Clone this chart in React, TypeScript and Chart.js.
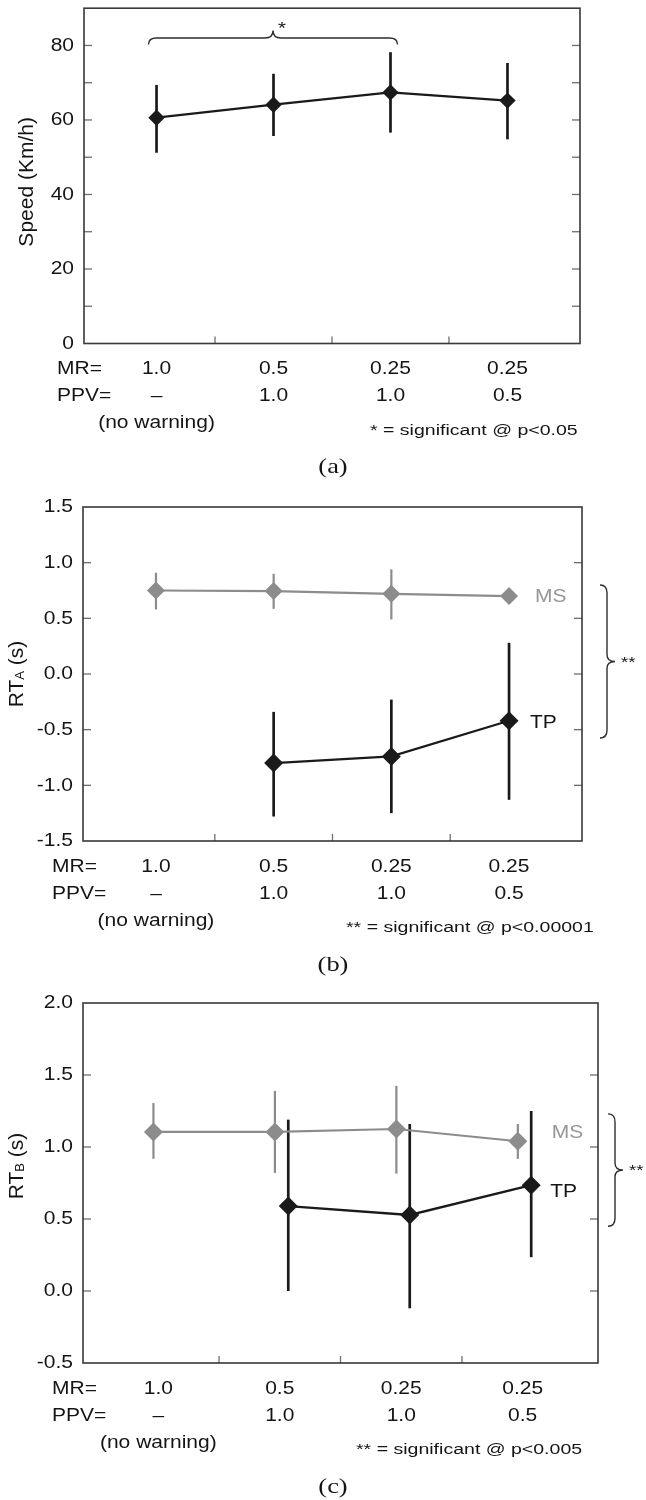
import React, { useEffect, useRef } from 'react';
import { Chart, registerables } from 'chart.js';

Chart.register(...registerables);

// ---------------- data ----------------
const mrLabels = ['1.0', '0.5', '0.25', '0.25'];
const ppvLabels = ['–', '1.0', '1.0', '0.5'];
const noWarningLabel = '(no warning)';

// (a) Speed
const speedMean = [60.6, 64.1, 67.4, 65.2];
const speedHigh = [69.4, 72.4, 78.2, 75.3];
const speedLow = [51.2, 55.7, 56.6, 54.8];
const speedTickLabels = [0, 20, 40, 60, 80];
const speedMinorTicks = [10, 30, 50, 70];
const speedBracketCats = [0, 2];
const speedBracketLevel = 82;

// (b) RT_A
const rtaMsMean = [0.75, 0.745, 0.72, 0.7];
const rtaMsHigh = [0.91, 0.9, 0.94, 0.72];
const rtaMsLow = [0.58, 0.585, 0.49, 0.68];
const rtaTpMean = [null, -0.8, -0.74, -0.42];
const rtaTpHigh = [null, -0.34, -0.23, 0.28];
const rtaTpLow = [null, -1.28, -1.25, -1.13];
const rtaTickLabels = [-1.5, -1.0, -0.5, 0.0, 0.5, 1.0, 1.5];
const rtaBrace = [0.8, -0.575];

// (c) RT_B
const rtbMsMean = [1.105, 1.105, 1.125, 1.04];
const rtbMsHigh = [1.305, 1.39, 1.425, 1.16];
const rtbMsLow = [0.918, 0.82, 0.815, 0.918];
const rtbTpMean = [null, 0.59, 0.528, 0.735];
const rtbTpHigh = [null, 1.19, 1.16, 1.25];
const rtbTpLow = [null, 0.0, -0.12, 0.235];
const rtbTickLabels = [-0.5, 0.0, 0.5, 1.0, 1.5, 2.0];
const rtbBrace = [1.23, 0.45];

// ---------------- styles ----------------
const FONT = "'Liberation Sans', Arial, Helvetica, sans-serif";
const SERIF = "'Liberation Serif', 'Times New Roman', serif";
const TEXT = '#141414';
const BLACK = '#1a1a1a';
const GRAY = '#8c8c8c';
const GRAY_TEXT = '#969696';
const SX = 1.2;
const FS = 17.5;
const W = 646;

type Series = {
  name: string; mean: (number | null)[]; high: (number | null)[]; low: (number | null)[];
  color: string; radius: number; barWidth: number; lineWidth: number; dodge: number; order: number;
  label?: { text: string; color: string; dx: number; dy: number };
};

const panels: any[] = [
  {
    key: 'a', top: 0, height: 485,
    area: { left: 84, top: 7, right: 580, bottom: 343.5 },
    yMin: 0, yMax: 90, yTicks: speedTickLabels, yMinor: speedMinorTicks, decimals: 0,
    yTitle: [{ t: 'Speed (Km/h)', size: 21 }], yTitleX: 25, yTitleDy: 6,
    series: [
      { name: 'Speed', mean: speedMean, high: speedHigh, low: speedLow, color: BLACK, radius: 8.2, barWidth: 2.7, lineWidth: 2.3, dodge: 0, order: 0 },
    ] as Series[],
    labelX: 57, sigText: '* = significant @ p<0.05', sigX: 370, panelLabel: '(a)',
    topBracket: { cats: speedBracketCats, level: speedBracketLevel },
  },
  {
    key: 'b', top: 485, height: 495,
    area: { left: 83, top: 22, right: 582, bottom: 356 },
    yMin: -1.5, yMax: 1.5, yTicks: rtaTickLabels, yMinor: [], decimals: 1,
    yTitle: [{ t: 'RT', size: 21 }, { t: 'A', size: 13, dy: 1.5 }, { t: ' (s)', size: 21 }], yTitleX: 15, yTitleDy: 0,
    series: [
      { name: 'MS', mean: rtaMsMean, high: rtaMsHigh, low: rtaMsLow, color: GRAY, radius: 9, barWidth: 2.2, lineWidth: 2.2, dodge: 0, order: 1,
        label: { text: 'MS', color: GRAY_TEXT, dx: 26, dy: 1 } },
      { name: 'TP', mean: rtaTpMean, high: rtaTpHigh, low: rtaTpLow, color: BLACK, radius: 9.5, barWidth: 2.7, lineWidth: 2.3, dodge: 0, order: 0,
        label: { text: 'TP', color: TEXT, dx: 21, dy: 2 } },
    ] as Series[],
    labelX: 52, sigText: '** = significant @ p<0.00001', sigX: 346, panelLabel: '(b)',
    sideBrace: { span: rtaBrace, gap: 18 },
  },
  {
    key: 'c', top: 980, height: 520,
    area: { left: 83, top: 23, right: 598, bottom: 383 },
    yMin: -0.5, yMax: 2.0, yTicks: rtbTickLabels, yMinor: [], decimals: 1,
    yTitle: [{ t: 'RT', size: 21 }, { t: 'B', size: 13, dy: 1.5 }, { t: ' (s)', size: 21 }], yTitleX: 15, yTitleDy: -17,
    series: [
      { name: 'MS', mean: rtbMsMean, high: rtbMsHigh, low: rtbMsLow, color: GRAY, radius: 9.5, barWidth: 2.2, lineWidth: 2.2, dodge: -0.04, order: 1,
        label: { text: 'MS', color: GRAY_TEXT, dx: 34, dy: -8 } },
      { name: 'TP', mean: rtbTpMean, high: rtbTpHigh, low: rtbTpLow, color: BLACK, radius: 9.5, barWidth: 2.7, lineWidth: 2.3, dodge: 0.07, order: 0,
        label: { text: 'TP', color: TEXT, dx: 19, dy: 7 } },
    ] as Series[],
    labelX: 52, sigText: '** = significant @ p<0.005', sigX: 356, panelLabel: '(c)',
    sideBrace: { span: rtbBrace, gap: 10 },
  },
];

// ---------------- drawing helpers ----------------
function txt(ctx: CanvasRenderingContext2D, s: string, x: number, y: number,
  o: { size?: number; color?: string; align?: CanvasTextAlign; baseline?: CanvasTextBaseline; sx?: number; family?: string } = {}) {
  ctx.save();
  ctx.font = `${o.size ?? FS}px ${o.family ?? FONT}`;
  ctx.fillStyle = o.color ?? TEXT;
  ctx.textAlign = o.align ?? 'left';
  ctx.textBaseline = o.baseline ?? 'middle';
  ctx.translate(x, y);
  ctx.scale(o.sx ?? SX, 1);
  ctx.fillText(s, 0, 0);
  ctx.restore();
}

function seg(ctx: CanvasRenderingContext2D, x1: number, y1: number, x2: number, y2: number) {
  ctx.beginPath();
  ctx.moveTo(x1, y1);
  ctx.lineTo(x2, y2);
  ctx.stroke();
}

function makePlugin(cfg: any) {
  return {
    id: 'decor_' + cfg.key,
    beforeDatasetsDraw(chart: any) {
      const { ctx, scales } = chart;
      const x = scales.x, y = scales.y;
      (cfg.series as Series[]).forEach((s) => {
        ctx.save();
        ctx.strokeStyle = s.color;
        ctx.lineWidth = s.barWidth;
        s.mean.forEach((v, i) => {
          if (v == null) return;
          const px = x.getPixelForValue(i + s.dodge);
          seg(ctx, px, y.getPixelForValue(s.high[i] as number), px, y.getPixelForValue(s.low[i] as number));
        });
        ctx.restore();
      });
    },
    afterDraw(chart: any) {
      const { ctx, chartArea: a, scales } = chart;
      const x = scales.x, y = scales.y;
      ctx.save();
      // inward tick marks
      ctx.strokeStyle = '#6e6e6e';
      ctx.lineWidth = 1.3;
      [...cfg.yTicks, ...cfg.yMinor].forEach((v: number) => {
        const py = y.getPixelForValue(v);
        if (py <= a.top + 1 || py >= a.bottom - 1) return;
        seg(ctx, a.left, py, a.left + 8, py);
        seg(ctx, a.right - 8, py, a.right, py);
      });
      for (let i = 0; i < mrLabels.length - 1; i++) {
        const px = x.getPixelForValue(i + 0.5);
        seg(ctx, px, a.bottom, px, a.bottom - 7);
      }
      // frame
      ctx.strokeStyle = '#383838';
      ctx.lineWidth = 1.6;
      ctx.strokeRect(a.left, a.top, a.right - a.left, a.bottom - a.top);
      ctx.restore();

      // y tick labels
      cfg.yTicks.forEach((v: number) => {
        txt(ctx, v.toFixed(cfg.decimals), a.left - 10, y.getPixelForValue(v) + 0.5, { align: 'right' });
      });

      // y title (rotated, with optional subscript)
      ctx.save();
      const cy = (a.top + a.bottom) / 2 + cfg.yTitleDy;
      ctx.translate(cfg.yTitleX, cy);
      ctx.rotate(-Math.PI / 2);
      ctx.fillStyle = TEXT;
      ctx.textBaseline = 'alphabetic';
      ctx.textAlign = 'left';
      let total = 0;
      const widths = cfg.yTitle.map((p: any) => {
        ctx.font = `${p.size}px ${FONT}`;
        const w = ctx.measureText(p.t).width;
        total += w;
        return w;
      });
      let cx = -total / 2;
      const base = 21 * 0.716 / 2;
      cfg.yTitle.forEach((p: any, i: number) => {
        ctx.font = `${p.size}px ${FONT}`;
        ctx.fillText(p.t, cx, base + (p.dy ?? 0));
        cx += widths[i];
      });
      ctx.restore();

      // category rows
      const b = a.bottom;
      txt(ctx, 'MR=', cfg.labelX, b + 26);
      txt(ctx, 'PPV=', cfg.labelX, b + 53);
      mrLabels.forEach((l, i) => txt(ctx, l, x.getPixelForValue(i), b + 26, { align: 'center' }));
      ppvLabels.forEach((l, i) => txt(ctx, l, x.getPixelForValue(i), b + 53, { align: 'center' }));
      txt(ctx, noWarningLabel, x.getPixelForValue(0), b + 80, { align: 'center' });
      txt(ctx, cfg.sigText, cfg.sigX, b + 87, { size: 15.5, sx: 1.26 });
      txt(ctx, cfg.panelLabel, 333, b + 124, { size: 22, family: SERIF, align: 'center', sx: 1.2 });

      // series labels
      (cfg.series as Series[]).forEach((s) => {
        if (!s.label) return;
        const last = s.mean.length - 1;
        const px = x.getPixelForValue(last + s.dodge);
        const py = y.getPixelForValue(s.mean[last] as number);
        txt(ctx, s.label.text, px + s.label.dx, py + s.label.dy, { color: s.label.color });
      });

      ctx.save();
      ctx.strokeStyle = '#2e2e2e';
      ctx.lineWidth = 1.4;
      // top significance bracket
      if (cfg.topBracket) {
        const x0 = x.getPixelForValue(cfg.topBracket.cats[0]) - 8;
        const x1 = x.getPixelForValue(cfg.topBracket.cats[1]) + 7;
        const yl = y.getPixelForValue(cfg.topBracket.level);
        const ye = yl + 6.5;
        const tx = (x0 + x1) / 2;
        const ty = yl - 7.5;
        ctx.beginPath();
        ctx.moveTo(x0, ye);
        ctx.quadraticCurveTo(x0, yl, x0 + 8, yl);
        ctx.lineTo(tx - 8, yl);
        ctx.quadraticCurveTo(tx, yl, tx, ty);
        ctx.quadraticCurveTo(tx, yl, tx + 8, yl);
        ctx.lineTo(x1 - 8, yl);
        ctx.quadraticCurveTo(x1, yl, x1, ye);
        ctx.stroke();
        txt(ctx, '*', tx + 9, ty - 1, { size: 17, align: 'center' });
      }
      // side brace
      if (cfg.sideBrace) {
        const x0 = a.right + cfg.sideBrace.gap;
        const xm = x0 + 7;
        const xt = x0 + 15;
        const yt = y.getPixelForValue(cfg.sideBrace.span[0]);
        const yb = y.getPixelForValue(cfg.sideBrace.span[1]);
        const ym = (yt + yb) / 2;
        ctx.beginPath();
        ctx.moveTo(x0, yt);
        ctx.quadraticCurveTo(xm, yt, xm, yt + 8);
        ctx.lineTo(xm, ym - 7);
        ctx.quadraticCurveTo(xm, ym, xt, ym);
        ctx.quadraticCurveTo(xm, ym, xm, ym + 7);
        ctx.lineTo(xm, yb - 8);
        ctx.quadraticCurveTo(xm, yb, x0, yb);
        ctx.stroke();
        txt(ctx, '**', xt + 6, ym + 1, { size: 15.5, sx: 1.2 });
      }
      ctx.restore();
    },
  };
}

function buildConfig(cfg: any): any {
  const datasets = (cfg.series as Series[]).map((s) => ({
    label: s.name,
    data: s.mean
      .map((v, i) => (v == null ? null : { x: i + s.dodge, y: v }))
      .filter((d) => d !== null),
    borderColor: s.color,
    backgroundColor: s.color,
    borderWidth: s.lineWidth,
    pointStyle: 'rectRot',
    pointRadius: s.radius,
    pointBorderWidth: 0,
    pointBackgroundColor: s.color,
    pointBorderColor: s.color,
    tension: 0,
    fill: false,
    clip: false,
    order: s.order,
  }));
  return {
    type: 'line',
    data: { datasets },
    options: {
      responsive: false,
      animation: false,
      devicePixelRatio: 1,
      events: [],
      layout: {
        padding: {
          left: cfg.area.left,
          top: cfg.area.top,
          right: W - cfg.area.right,
          bottom: cfg.height - cfg.area.bottom,
        },
      },
      plugins: { legend: { display: false }, tooltip: { enabled: false }, title: { display: false } },
      scales: {
        x: { type: 'linear', display: false, min: -0.62, max: 3.62 },
        y: { type: 'linear', display: false, min: cfg.yMin, max: cfg.yMax },
      },
    },
    plugins: [makePlugin(cfg)],
  };
}

function Panel({ cfg }: { cfg: any }) {
  const ref = useRef<HTMLCanvasElement>(null);
  useEffect(() => {
    const chart = new Chart(ref.current as HTMLCanvasElement, buildConfig(cfg));
    return () => chart.destroy();
  }, [cfg]);
  return (
    <canvas
      ref={ref}
      width={W}
      height={cfg.height}
      style={{ position: 'absolute', left: 0, top: cfg.top, width: W, height: cfg.height }}
    />
  );
}

export default function App() {
  return (
    <div style={{ position: 'absolute', left: 0, top: 0, width: W, height: 1500, background: '#ffffff', overflow: 'hidden' }}>
      {panels.map((p) => (
        <Panel key={p.key} cfg={p} />
      ))}
    </div>
  );
}
